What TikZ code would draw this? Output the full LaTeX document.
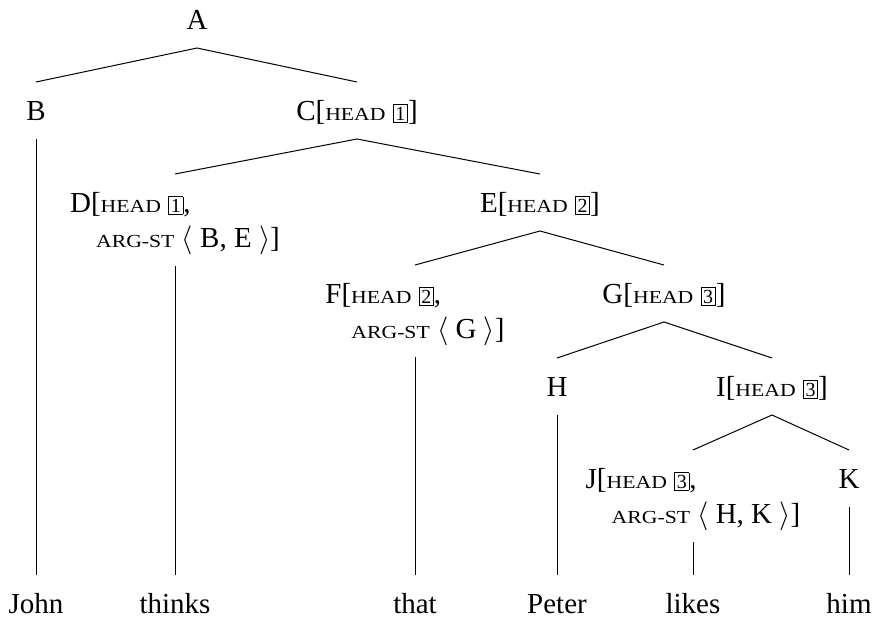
\documentclass[tikz,border=0pt]{standalone}
\usepackage{fontspec}
\setmainfont{Liberation Serif}
\newfontfamily\scfont[FakeStretch=1.18]{Liberation Serif}
\newcommand\smc[1]{{\scfont\fontsize{9.2}{10}\selectfont\MakeUppercase{#1}}}
\newcommand\tagbox[1]{{\setlength\fboxsep{0.9pt}\setlength\fboxrule{0.4pt}\fbox{\fontsize{10}{11}\selectfont #1}}}
\newcommand\twoline[2]{\begin{tabular}[t]{@{}l@{}}#1\\\hspace*{13pt}#2\end{tabular}}
\begin{document}
\begin{tikzpicture}[x=0.5pt,y=-0.5pt,
  lbl/.style={anchor=base,inner xsep=0pt,inner ysep=9pt,outer sep=0pt,
    text height=10pt,text depth=0.5pt,font=\fontsize{14.5}{17.5}\selectfont},
  lbltwo/.style={lbl,text depth=18pt},
  edge/.style={line width=0.5pt}]
\useasboundingbox (0,0) rectangle (875,618);
% nodes
\node[lbl] (A) at (197,29) {A};
\node[lbl] (B) at (36,120) {B};
\node[lbl] (C) at (357,120) {C[\smc{head} \tagbox{1}]};
\node[lbltwo] (D) at (175,212) {\twoline{D[\smc{head} \tagbox{1},}{\smc{arg-st} $\langle$ B, E $\rangle$]}};
\node[lbl] (E) at (540,212) {E[\smc{head} \tagbox{2}]};
\node[lbltwo] (F) at (415,303) {\twoline{F[\smc{head} \tagbox{2},}{\smc{arg-st} $\langle$ G $\rangle$]}};
\node[lbl] (G) at (664,303) {G[\smc{head} \tagbox{3}]};
\node[lbl] (H) at (557,396) {H};
\node[lbl] (I) at (772,396) {I[\smc{head} \tagbox{3}]};
\node[lbltwo] (J) at (693,488) {\twoline{J[\smc{head} \tagbox{3},}{\smc{arg-st} $\langle$ H, K $\rangle$]}};
\node[lbl] (K) at (849,488) {K};
% words
\node[lbl] (w1) at (36,613) {John};
\node[lbl] (w2) at (175,613) {thinks};
\node[lbl] (w3) at (415,613) {that};
\node[lbl] (w4) at (557,613) {Peter};
\node[lbl] (w5) at (693,613) {likes};
\node[lbl] (w6) at (849,613) {him};
% edges
\draw[edge] (B.north) -- (A.south) -- (C.north);
\draw[edge] (D.north) -- (C.south) -- (E.north);
\draw[edge] (F.north) -- (E.south) -- (G.north);
\draw[edge] (H.north) -- (G.south) -- (I.north);
\draw[edge] (J.north) -- (I.south) -- (K.north);
\draw[edge] (B.south) -- (w1.north);
\draw[edge] (D.south) -- (w2.north);
\draw[edge] (F.south) -- (w3.north);
\draw[edge] (H.south) -- (w4.north);
\draw[edge] (J.south) -- (w5.north);
\draw[edge] (K.south) -- (w6.north);
\end{tikzpicture}
\end{document}
